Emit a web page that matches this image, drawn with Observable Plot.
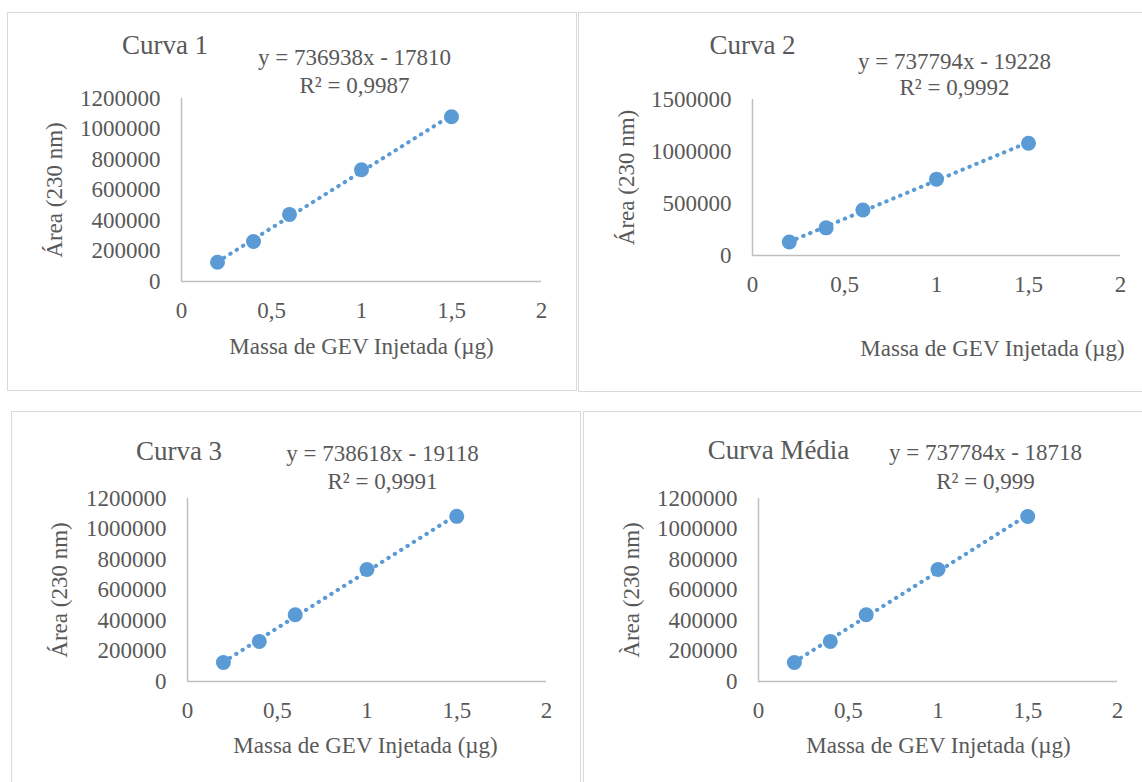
<!DOCTYPE html>
<html><head><meta charset="utf-8">
<script src="https://cdn.jsdelivr.net/npm/d3@7"></script>
<script src="https://cdn.jsdelivr.net/npm/@observablehq/plot@0.6"></script>
<style>
html,body{margin:0;padding:0;background:#fff;overflow:hidden;}
#page{position:relative;width:1142px;height:782px;overflow:hidden;background:#fff;}
.box{position:absolute;box-sizing:border-box;border:1.5px solid #d9d9d9;}
.plot{position:absolute;}
.plot text{font-family:'Liberation Serif','Times New Roman',serif;}
</style></head><body><div id="page"></div>
<script>
// ---- data ----
const massas = [0.2, 0.4, 0.6, 1.0, 1.5];
const curva1 = [126000, 262000, 440000, 733000, 1080000];
const curva2 = [130000, 266000, 438000, 734000, 1080000];
const curva3 = [125000, 263000, 438000, 734000, 1083000];
const curvaMedia = [125000, 263000, 438000, 734000, 1082000];
const titulos = ["Curva 1", "Curva 2", "Curva 3", "Curva Média"];
const equacoes = ["y = 736938x - 17810", "y = 737794x - 19228", "y = 738618x - 19118", "y = 737784x - 18718"];
const r2 = ["R² = 0,9987", "R² = 0,9992", "R² = 0,9991", "R² = 0,999"];
const yLabels = ["Área (230 nm)", "Área (230 nm)", "Área (230 nm)", "Àrea (230 nm)"];
const xLabel = "Massa de GEV Injetada (µg)";
const xTicks = [0, 0.5, 1, 1.5, 2];
const yTicks12 = [0, 200000, 400000, 600000, 800000, 1000000, 1200000];
const yTicks15 = [0, 500000, 1000000, 1500000];

const series = [curva1, curva2, curva3, curvaMedia];
const yTickSets = [yTicks12, yTicks15, yTicks12, yTicks12];

// ---- layout (page coordinates) ----
const layout = [
  {box:[7,12,577,391],   frame:[181,98,541,281], title:[164.5,53], eq:[354,64,92],  xl:[361,346], yl:[54,189.5]},
  {box:[578,12,1150,392],frame:[752,99,1120,255],title:[752,53],   eq:[954,68,94],  xl:[992,348], yl:[626,177]},
  {box:[11,411,581,790], frame:[187,498,546,681],title:[178.5,459],eq:[382,460,488],xl:[365,745], yl:[59,589.5]},
  {box:[583,411,1150,790],frame:[758,498,1117,681],title:[778,458],eq:[985,459,488],xl:[938,745], yl:[631,589.5]}
];

const page = document.getElementById("page");
const blue = "#5b9bd5", grey = "#595959", axisGrey = "#bfbfbf";
const serif = "'Liberation Serif', 'Times New Roman', serif";

layout.forEach((L, i) => {
  const [bx0, by0, bx1, by1] = L.box;
  const [fx0, fy0, fx1, fy1] = L.frame;
  const box = document.createElement("div");
  box.className = "box";
  Object.assign(box.style, {left: bx0 + "px", top: by0 + "px", width: (bx1 - bx0) + "px", height: (by1 - by0) + "px"});
  page.appendChild(box);

  const data = massas.map((m, k) => ({x: m, y: series[i][k]}));
  const yt = yTickSets[i];
  const at = (px, py) => ({frameAnchor: "top-left", dx: px - fx0, dy: py - fy0});
  const txt = {fontFamily: serif, fill: grey};

  const chart = Plot.plot({
    width: bx1 - bx0,
    height: by1 - by0,
    marginLeft: fx0 - bx0,
    marginRight: bx1 - fx1,
    marginTop: fy0 - by0,
    marginBottom: by1 - fy1,
    style: {fontFamily: serif, fontSize: "23px", color: grey, background: "transparent", overflow: "visible"},
    x: {domain: [0, 2]},
    y: {domain: [0, yt[yt.length - 1]]},
    marks: [
      Plot.ruleY([0], {stroke: axisGrey, strokeWidth: 1.5}),
      Plot.ruleX([0], {stroke: axisGrey, strokeWidth: 1.5}),
      Plot.axisX({ticks: xTicks, tickSize: 0, tickPadding: 20, tickFormat: d => String(d).replace(".", ","), label: null, fontSize: 23, ...txt}),
      Plot.axisY({ticks: yt, tickSize: 0, tickPadding: 21, tickFormat: d => String(d), label: null, fontSize: 23, ...txt}),
      Plot.linearRegressionY(data, {x: "x", y: "y", ci: 0, stroke: blue, strokeWidth: 4, strokeDasharray: "0.5,7", strokeLinecap: "round"}),
      Plot.dot(data, {x: "x", y: "y", r: 7.5, fill: blue, stroke: "none"}),
      Plot.text([titulos[i]], {text: d => d, ...at(L.title[0], L.title[1]), textAnchor: "middle", lineAnchor: "bottom", fontSize: 27, ...txt}),
      Plot.text([equacoes[i]], {text: d => d, ...at(L.eq[0], L.eq[1]), textAnchor: "middle", lineAnchor: "bottom", fontSize: 23, ...txt}),
      Plot.text([r2[i]], {text: d => d, ...at(L.eq[0], L.eq[2]), textAnchor: "middle", lineAnchor: "bottom", fontSize: 23, ...txt}),
      Plot.text([xLabel], {text: d => d, ...at(L.xl[0], L.xl[1]), textAnchor: "middle", lineAnchor: "middle", fontSize: 23, ...txt}),
      Plot.text([yLabels[i]], {text: d => d, ...at(L.yl[0], L.yl[1]), textAnchor: "middle", lineAnchor: "middle", rotate: -90, fontSize: 23, ...txt})
    ]
  });
  chart.classList.add("plot");
  Object.assign(chart.style, {left: bx0 + "px", top: by0 + "px"});
  page.appendChild(chart);
});
</script>
</body></html>
